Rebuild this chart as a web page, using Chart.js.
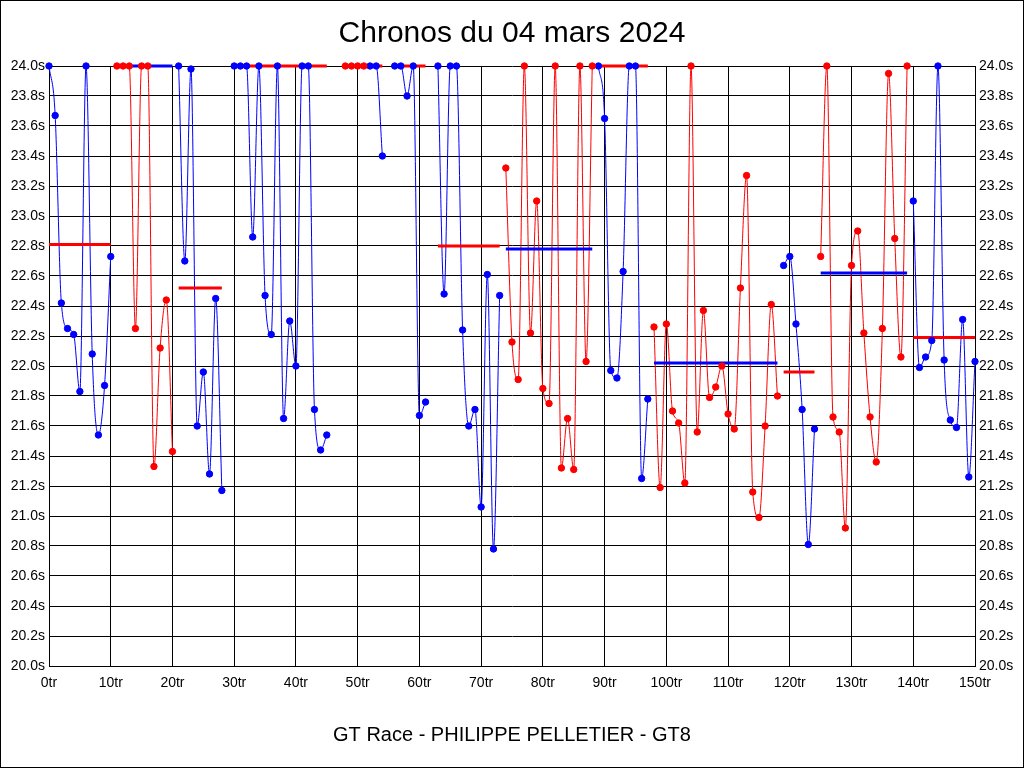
<!DOCTYPE html>
<html><head><meta charset="utf-8">
<script src="https://cdn.jsdelivr.net/npm/chart.js@4"></script>
<style>html,body{margin:0;padding:0;background:#fff}canvas{display:block}</style>
</head><body>
<canvas id="c" width="1024" height="768"></canvas>
<script>
// Lap times in seconds, index = lap number ("tr"); null = no time recorded
const lapTimes = [
  24.0, 23.67, 22.42, 22.25, 22.21, 21.83, 24.0, 22.08, 21.54, 21.87,
  22.73, 24.0, 24.0, 24.0, 22.25, 24.0, 24.0, 21.33, 22.12, 22.44,
  21.43, 24.0, 22.70, 23.98, 21.60, 21.96, 21.28, 22.45, 21.17, null,
  24.0, 24.0, 24.0, 22.86, 24.0, 22.47, 22.21, 24.0, 21.65, 22.30,
  22.00, 24.0, 24.0, 21.71, 21.44, 21.54, null, null, 24.0, 24.0,
  24.0, 24.0, 24.0, 24.0, 23.40, null, 24.0, 24.0, 23.80, 24.0,
  21.67, 21.76, null, 24.0, 22.48, 24.0, 24.0, 22.24, 21.60, 21.71,
  21.06, 22.61, 20.78, 22.47, 23.32, 22.16, 21.91, 24.0, 22.22, 23.10,
  21.85, 21.75, 24.0, 21.32, 21.65, 21.31, 24.0, 22.03, 24.0, 24.0,
  23.65, 21.97, 21.92, 22.63, 24.0, 24.0, 21.25, 21.78, 22.26, 21.19,
  22.28, 21.70, 21.62, 21.22, 24.0, 21.56, 22.37, 21.79, 21.86, 22.00,
  21.68, 21.58, 22.52, 23.27, 21.16, 20.99, 21.60, 22.41, 21.80, 22.67,
  22.73, 22.28, 21.71, 20.81, 21.58, 22.73, 24.0, 21.66, 21.56, 20.92,
  22.67, 22.90, 22.22, 21.66, 21.36, 22.25, 23.95, 22.85, 22.06, 24.0,
  23.10, 21.99, 22.06, 22.17, 24.0, 22.04, 21.64, 21.59, 22.31, 21.26,
  22.03
];
// Stints (relais): first lap, last lap, colour of the points, average time
const stintStarts   = [0, 11, 21, 30, 48, 52, 56, 63, 74, 89, 98, 119, 125, 140];
const stintEnds     = [10, 20, 28, 45, 51, 54, 61, 73, 88, 97, 118, 124, 139, 150];
const stintColors   = ['blue','red','blue','blue','red','blue','blue','blue','red','blue','red','blue','red','blue'];
const stintAverages = [22.81, 24.0, 22.52, 24.0, 24.0, 24.0, 24.0, 22.80, 22.78, 24.0, 22.02, 21.96, 22.62, 22.19];

const titleText  = 'Chronos du 04 mars 2024';
const footerText = 'GT Race - PHILIPPE PELLETIER - GT8';
const xMin = 0, xMax = 150, xStep = 10;
const yMin = 20, yMax = 24, yStep = 0.2;

const palette = { blue: '#0000FF', red: '#FF0000' };
const FONT = "'Liberation Sans', Arial, sans-serif";

const datasets = [];
stintStarts.forEach((s, i) => {
  const e = stintEnds[i];
  const pts = [];
  for (let lap = s; lap <= e; lap++) pts.push({ x: lap, y: lapTimes[lap] });
  const col = palette[stintColors[i]];
  const avgCol = stintColors[i] === 'blue' ? palette.red : palette.blue;
  datasets.push({
    data: pts, borderColor: col, backgroundColor: col, borderWidth: 1,
    pointRadius: 0, cubicInterpolationMode: 'monotone', spanGaps: false,
    clip: false, order: 3
  });
  datasets.push({
    data: [{ x: s, y: stintAverages[i] }, { x: e, y: stintAverages[i] }],
    borderColor: avgCol, backgroundColor: avgCol, borderWidth: 3,
    pointRadius: 0, tension: 0, clip: false, order: 2, borderCapStyle: 'butt'
  });
  datasets.push({
    data: pts, borderColor: col, backgroundColor: col, borderWidth: 1,
    pointRadius: 3.2, pointHoverRadius: 3.2, showLine: false, clip: false, order: 1
  });
});

const frame = {
  id: 'frame',
  beforeDraw(chart) {
    const c = chart.ctx;
    c.save();
    c.fillStyle = '#fff';
    c.fillRect(0, 0, chart.width, chart.height);
    c.restore();
  },
  afterDraw(chart) {
    const c = chart.ctx;
    c.save();
    c.strokeStyle = '#000';
    c.lineWidth = 1;
    c.strokeRect(0.5, 0.5, chart.width - 1, chart.height - 1);
    c.restore();
  }
};

const yTicks = {
  stepSize: yStep, color: '#000', padding: 4,
  font: { family: FONT, size: 14 },
  callback: v => Number(v).toFixed(1) + 's'
};

new Chart(document.getElementById('c'), {
  type: 'line',
  data: { datasets },
  plugins: [frame],
  options: {
    responsive: false, animation: false, devicePixelRatio: 1,
    layout: { padding: 0 },
    plugins: {
      legend: { display: false }, tooltip: { enabled: false },
      title: {
        display: true, text: titleText, color: '#000',
        font: { family: FONT, size: 30, weight: 'normal', lineHeight: 1.2 },
        padding: { top: 16, bottom: 14 }
      },
      subtitle: {
        display: true, position: 'bottom', text: footerText, color: '#000',
        font: { family: FONT, size: 20, weight: 'normal', lineHeight: 1.2 },
        padding: { top: 17, bottom: 21 }
      }
    },
    scales: {
      x: {
        type: 'linear', min: xMin, max: xMax,
        ticks: { stepSize: xStep, color: '#000', padding: 9, maxRotation: 0,
                 font: { family: FONT, size: 14 }, callback: v => v + 'tr' },
        grid: { color: '#000', lineWidth: 1, drawTicks: false },
        border: { color: '#000', width: 1 },
        afterFit: s => { s.height = 40; }
      },
      y: {
        position: 'left', min: yMin, max: yMax, ticks: yTicks,
        grid: { color: '#000', lineWidth: 1, drawTicks: false },
        border: { color: '#000', width: 1 },
        afterFit: s => { s.width = 49; }
      },
      y2: {
        position: 'right', min: yMin, max: yMax, ticks: yTicks,
        grid: { display: false, drawTicks: false },
        border: { display: true, color: '#000', width: 1 },
        afterFit: s => { s.width = 49; }
      }
    }
  }
});
</script>
</body></html>
